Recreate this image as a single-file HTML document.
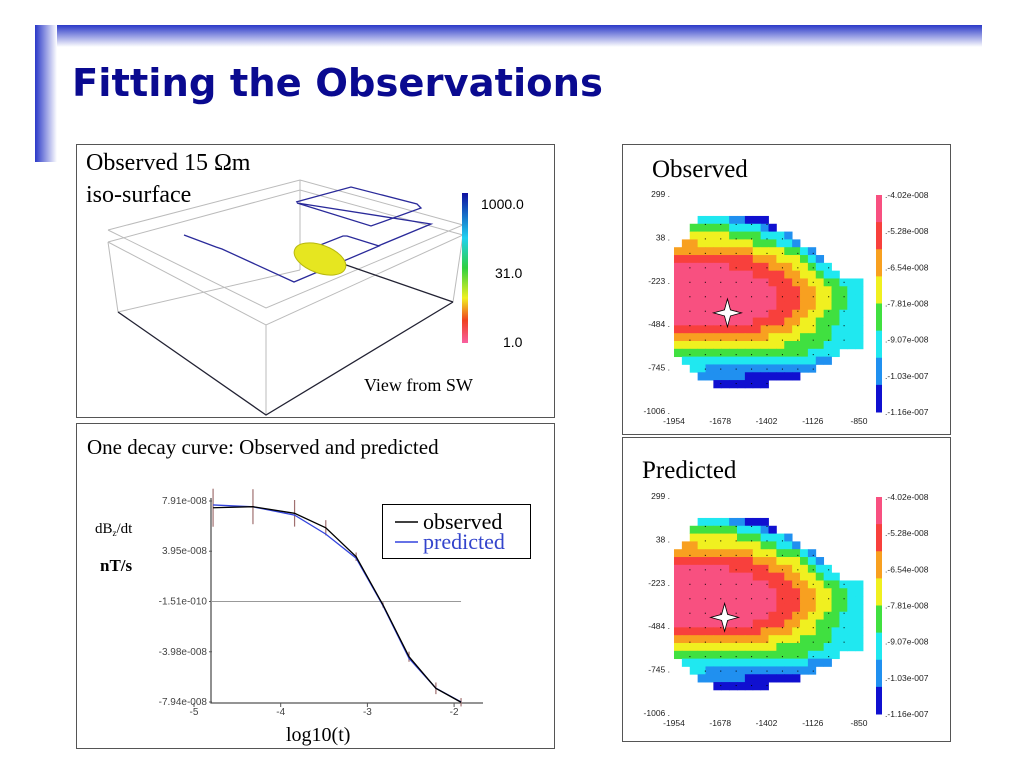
<!DOCTYPE html>
<html><head><meta charset="utf-8"><style>
html,body{margin:0;padding:0;background:#fff;width:1024px;height:768px;overflow:hidden}
svg text{font-family:"Liberation Sans",sans-serif}
.serif{font-family:"Liberation Serif",serif}
</style></head><body>
<svg id="s" width="1024" height="768" viewBox="0 0 1024 768">
<defs>
<linearGradient id="tg" x1="0" y1="0" x2="0" y2="1"><stop offset="0" stop-color="#2a38c8"/><stop offset="1" stop-color="#fff"/></linearGradient>
<linearGradient id="lg" x1="0" y1="0" x2="1" y2="0"><stop offset="0" stop-color="#2a38c8"/><stop offset="1" stop-color="#fff"/></linearGradient>
<linearGradient id="cb3" x1="0" y1="0" x2="0" y2="1"><stop offset="0" stop-color="#1010a0"/><stop offset="0.3" stop-color="#20d0f0"/><stop offset="0.5" stop-color="#30d040"/><stop offset="0.7" stop-color="#f0f020"/><stop offset="0.85" stop-color="#f04020"/><stop offset="1" stop-color="#f860a0"/></linearGradient>
</defs>
<rect x="35" y="25" width="947" height="22" fill="url(#tg)"/>
<rect x="35" y="25" width="22" height="137" fill="url(#lg)"/>
<text x="72" y="96" font-size="38.5" font-weight="bold" fill="#0a0a90" style="font-family:'DejaVu Sans',sans-serif">Fitting the Observations</text>

<!-- Panel A -->
<g>
<rect x="76.5" y="144.5" width="478" height="273" fill="#fff" stroke="#555"/>
<g fill="none" stroke="#bbb" stroke-width="1">
<polyline points="108,230 300,180 463,225 266,308 108,230"/>
<polyline points="108,242 300,190 463,235 266,325 108,242"/>
<line x1="300" y1="180" x2="300" y2="270"/>
<line x1="108" y1="242" x2="118" y2="312"/>
<line x1="266" y1="325" x2="266" y2="415"/>
<line x1="463" y1="235" x2="453" y2="302"/>
<line x1="300" y1="270" x2="118" y2="312"/>
</g>
<g fill="none" stroke="#223" stroke-width="1.3">
<polyline points="118,312 266,415 453,302"/>
<line x1="303" y1="250" x2="453" y2="302"/>
</g>
<g fill="none" stroke="#2a2a9a" stroke-width="1.3">
<polyline points="184,235 216,247 222,249 294,282 379,246 347,236 343,236 305,251"/>
<polyline points="296,202 351,187 417,204 421,208 371,226 297,203 431,224 378,246"/>
</g>
<ellipse cx="320" cy="259" rx="27" ry="14" fill="#e6e620" stroke="#b8b810" transform="rotate(20 320 259)"/>
<rect x="462" y="193" width="6" height="150" fill="url(#cb3)"/>
<text x="481" y="209" font-size="14">1000.0</text>
<text x="495" y="278" font-size="14">31.0</text>
<text x="503" y="347" font-size="14">1.0</text>
<text class="serif" x="86" y="170" font-size="24">Observed 15 Ωm</text>
<text class="serif" x="86" y="202" font-size="24">iso-surface</text>
<text class="serif" x="364" y="391" font-size="18">View from SW</text>
</g>

<!-- Panel B -->
<g>
<rect x="76.5" y="423.5" width="478" height="325" fill="#fff" stroke="#555"/>
<text class="serif" x="87" y="454" font-size="21">One decay curve: Observed and predicted</text>
<text class="serif" x="95" y="533" font-size="15">dB<tspan font-size="9" dy="3">z</tspan><tspan dy="-3">/dt</tspan></text>
<text class="serif" x="100" y="571" font-size="17" font-weight="bold">nT/s</text>
<text class="serif" x="286" y="741" font-size="20">log10(t)</text>
<g id="decay"></g>
<rect x="382.5" y="504.5" width="148" height="54" fill="#fff" stroke="#000"/>
<line x1="395" y1="522" x2="418" y2="522" stroke="#000" stroke-width="1.5"/>
<text class="serif" x="423" y="529" font-size="22">observed</text>
<line x1="395" y1="542" x2="418" y2="542" stroke="#3344dd" stroke-width="1.5"/>
<text class="serif" x="423" y="549" font-size="22" fill="#3344cc">predicted</text>
</g>

<!-- Heatmap panels -->
<rect x="622.5" y="144.5" width="328" height="290" fill="#fff" stroke="#555"/>
<rect x="622.5" y="437.5" width="328" height="304" fill="#fff" stroke="#555"/>
<text class="serif" x="652" y="177" font-size="25">Observed</text>
<text class="serif" x="642" y="478" font-size="25">Predicted</text>
<g id="mapObs"></g>
<g id="mapPred"></g>
</svg>
<script>
// ---- decay curve data ----
const logT = [-4.78, -4.32, -3.84, -3.48, -3.13, -2.82, -2.52, -2.21, -1.92];
const observed = [7.38, 7.46, 6.94, 5.80, 3.52, -0.29, -4.37, -6.86, -7.96];
const predicted = [7.60, 7.45, 6.80, 5.30, 3.40, -0.35, -4.50, -6.85, -7.94];
const errBars = [1.5, 1.38, 1.05, 0.6, 0.33, 0.2, 0.4, 0.46, 0.33];
const yTicks = [7.91, 3.95, -0.0151, -3.98, -7.94];
const yTickLabels = ["7.91e-008", "3.95e-008", "-1.51e-010", "-3.98e-008", "-7.94e-008"];
const xTicks = [-5, -4, -3, -2];

// ---- map data (levels 0=max .. 7=min, '.'=no data) ----
const obsGrid = [
"...555566777............",
"..44444555567...........",
"..3333344445556.........",
".223333333444556........",
"222222222233334456......",
"1111111111222333456.....",
"00000001111122233455....",
"000000000011112233455...",
"000000000000111223344555",
"000000000000011122334455",
"000000000000011122334455",
"000000000000011122334455",
"000000000000111223344555",
"000000000011112233444555",
"111111111112222333445555",
"222222222222333344445555",
"333333333333334444455555",
"444444444444444445555...",
".5555555555555555566....",
"..5566666666666666......",
"...6666667777777........",
".....7777777............"];
const predGrid = [
"...555566777............",
"..44444455567...........",
"..3333334445556.........",
".223333333344556........",
"222222222233344456......",
"1111111111222333456.....",
"00000001111122233455....",
"000000000011112233455...",
"000000000000111223344555",
"000000000000011122334455",
"000000000000011122334455",
"000000000000011122334455",
"000000000000111223344555",
"000000000011112233444555",
"111111111112222333445555",
"222222222222333344445555",
"333333333333344444455555",
"444444444444444445555...",
".5555555555555555666....",
"..5566666666666666......",
"...6666667777777........",
".....7777777............"];
const levelColors = ["#f85080","#f8403c","#f8a020","#f0f020","#40e040","#20e8f0","#2090f0","#1010d0"];
const mapXTicks = [-1954, -1678, -1402, -1126, -850];
const mapYTicks = [299, 38, -223, -484, -745, -1006];
const cbLabels = ["-4.02e-008","-5.28e-008","-6.54e-008","-7.81e-008","-9.07e-008","-1.03e-007","-1.16e-007"];
const gridX0 = -1954, gridY0 = 173, cellSize = 47;
const starObs = [-1635, -410];
const starPred = [-1652, -425];

const NS = "http://www.w3.org/2000/svg";
function mk(tag, attrs, parent){ const e=document.createElementNS(NS,tag); for(const k in attrs) e.setAttribute(k,attrs[k]); parent.appendChild(e); return e; }

// decay chart
(function(){
  const g = document.getElementById('decay');
  const X = v => 194 + (v + 5) * 86.7;
  const Y = v => 501 + (7.91 - v) * (201 / 15.85);
  let ax = mk('path',{d:`M211 ${Y(7.91)-3} V703 H483`,fill:'none',stroke:'#555','stroke-width':1.3},g);
  
  
  yTicks.forEach((t,i)=>{
    const l = mk('line',{x1:209,x2:212,y1:Y(t),y2:Y(t),stroke:'#555'},g);
    
    
    const tx = mk('text',{x:207,y:Y(t)+3,'font-size':10,'text-anchor':'end',fill:'#444'},g);
    tx.textContent = yTickLabels[i];
    
    
  });
  xTicks.forEach(t=>{
    const l = mk('line',{x1:X(t),x2:X(t),y1:703,y2:707,stroke:'#555'},g);
    
    
    const tx = mk('text',{x:X(t),y:715,'font-size':10,'text-anchor':'middle',fill:'#444'},g);
    tx.textContent = String(t);
    
    
  });
  const zl = mk('line',{x1:211,x2:X(-1.92),y1:Y(-0.0151),y2:Y(-0.0151),stroke:'#999'},g);
  
  
  logT.forEach((t,i)=>{
    const e = mk('line',{x1:X(t),x2:X(t),y1:Y(observed[i]+errBars[i]),y2:Y(observed[i]-errBars[i]),stroke:'#a07070','stroke-width':1.2},g);
    
    
  });
  const pp = mk('polyline',{points:logT.map((t,i)=>X(t)+','+Y(predicted[i])).join(' '),fill:'none',stroke:'#3344dd','stroke-width':1.3},g);
  
  
  const op = mk('polyline',{points:logT.map((t,i)=>X(t)+','+Y(observed[i])).join(' '),fill:'none',stroke:'#000','stroke-width':1.3},g);
  
  
})();

function drawMap(gid, grid, star, dy, prefix){
  const g = document.getElementById(gid);
  const X = v => 674 + (v + 1954) * (185 / 1104);
  const Y = v => 195 + dy + (299 - v) * (217 / 1305);
  const cw = X(gridX0 + cellSize) - X(gridX0), ch = Y(gridY0 - cellSize) - Y(gridY0);
  grid.forEach((row,r)=>{
    for(let c=0;c<row.length;c++){
      const ch_ = row[c]; if(ch_==='.') continue;
      const cell = mk('rect',{x:X(gridX0+c*cellSize),y:Y(gridY0-r*cellSize),width:cw+0.4,height:ch+0.4,fill:levelColors[+ch_]},g);
      
      
    }
  });
  for(let xv=-1954+92; xv<-850; xv+=92){
    for(let yv=299-87; yv>-1006; yv-=87){
      const c = Math.floor((xv-gridX0)/cellSize), r = Math.floor((gridY0-yv)/cellSize);
      if(r<0||r>=grid.length||c<0||c>=24||grid[r][c]==='.') continue;
      const d = mk('rect',{x:X(xv),y:Y(yv),width:1,height:1,fill:'#000'},g);
      
      
    }
  }
  mapXTicks.forEach(t=>{
    const tx = mk('text',{x:X(t),y:Y(-1006)+12,'font-size':8.5,'text-anchor':'middle',fill:'#222'},g);
    tx.textContent = String(t);
    
    
  });
  mapYTicks.forEach(t=>{
    const tx = mk('text',{x:X(-1954)-4,y:Y(t)+2,'font-size':8.5,'text-anchor':'end',fill:'#222'},g);
    tx.textContent = String(t)+' .';
    
    
  });
  const cbTop = 195+dy, cbBot = 412+dy, n = levelColors.length, segH = (cbBot-cbTop)/n;
  levelColors.forEach((col,i)=>{
    const s = mk('rect',{x:876,y:cbTop+i*segH,width:6,height:segH+0.5,fill:col},g);
    
    
  });
  cbLabels.forEach((lab,i)=>{
    const y = cbTop + i*(cbBot-cbTop)/(cbLabels.length-1);
    const tx = mk('text',{x:885,y:y+3,'font-size':8.5,fill:'#222'},g);
    tx.textContent = '.'+lab;
    
    
  });
  const sx = X(star[0]), sy = Y(star[1]);
  const st = mk('path',{d:`M${sx} ${sy-14} L${sx+3} ${sy-3} L${sx+14} ${sy} L${sx+3} ${sy+3} L${sx} ${sy+14} L${sx-3} ${sy+3} L${sx-14} ${sy} L${sx-3} ${sy-3}Z`,fill:'#fff',stroke:'#000','stroke-width':0.8},g);
  
  
}
drawMap('mapObs', obsGrid, starObs, 0, 'observed-map');
drawMap('mapPred', predGrid, starPred, 302, 'predicted-map');
</script>
</body></html>
